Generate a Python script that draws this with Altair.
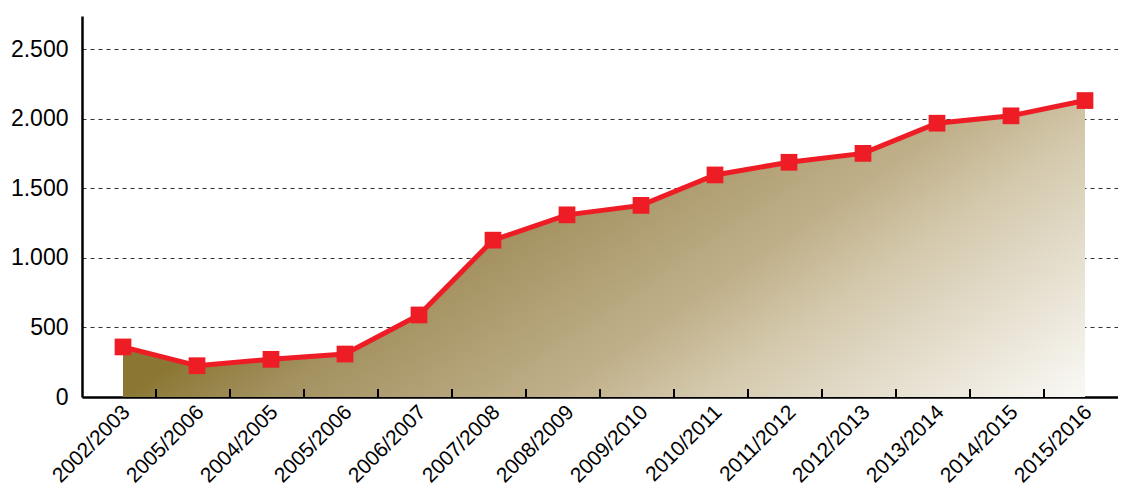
import json
import altair as alt
import pandas as pd

labels = ["2002/2003", "2005/2006", "2004/2005", "2005/2006", "2006/2007", "2007/2008",
          "2008/2009", "2009/2010", "2010/2011", "2011/2012", "2012/2013", "2013/2014",
          "2014/2015", "2015/2016"]
values = [360, 225, 271, 309, 590, 1128, 1310, 1378, 1597, 1688, 1752, 1969, 2022, 2132]
y_ticks = [0, 500, 1000, 1500, 2000, 2500]

df = pd.DataFrame({"idx": list(range(len(labels))), "value": values})
bounds = pd.DataFrame({"idx": list(range(len(labels) - 1))})

FONT = "Liberation Sans"
label_expr = json.dumps(labels) + "[datum.value]"

x_scale = alt.Scale(type="band", paddingInner=0, paddingOuter=0)
x_axis = alt.Axis(title=None, labelExpr=label_expr, labelAngle=-45,
                  labelFont=FONT, labelFontSize=21, labelColor="black",
                  labelPadding=4, ticks=False, domainColor="black",
                  domainWidth=2.5, grid=False, labelOverlap=False, labelBound=False)
x_enc = alt.X("idx:O", scale=x_scale, bandPosition=0.5, axis=x_axis)
y_enc = alt.Y("value:Q", scale=alt.Scale(domain=[0, 2740], nice=False),
              axis=alt.Axis(title=None, values=y_ticks, ticks=False,
                            labelExpr="replace(format(datum.value, ','), ',', '.')",
                            labelFont=FONT, labelFontSize=23, labelColor="black",
                            labelPadding=14, domainColor="black", domainWidth=2.5,
                            grid=True, gridColor="#333333", gridDash=[4, 4],
                            gridWidth=1))

grad = alt.Gradient(
    gradient="linear",
    stops=[alt.GradientStop(offset=0, color="#8B7733"),
           alt.GradientStop(offset=0.15, color="#A39160"),
           alt.GradientStop(offset=0.45, color="#C0B08A"),
           alt.GradientStop(offset=0.6, color="#D4C9AD"),
           alt.GradientStop(offset=1, color="#FAF9F6")],
    x1=0, y1=1, x2=0.832, y2=1.374)

area = alt.Chart(df).mark_area(color=grad, opacity=1, xOffset=4).encode(x=x_enc, y=y_enc)
line = alt.Chart(df).mark_line(color="#EE1C25", strokeWidth=5, xOffset=4).encode(x=x_enc, y=y_enc)
pts = alt.Chart(df).mark_square(color="#EE1C25", size=280, opacity=1, xOffset=4).encode(x=x_enc, y=y_enc)
ticks = alt.Chart(bounds).mark_rule(color="black", strokeWidth=2).encode(
    x=alt.X("idx:O", scale=x_scale, bandPosition=1),
    y=alt.value(381), y2=alt.value(373))

chart = alt.layer(area, line, pts, ticks).properties(
    width=1036, height=381,
    background="white",
    autosize=alt.AutoSizeParams(type="none"),
    padding={"left": 74, "top": 8, "right": 0, "bottom": 90},
).configure_view(stroke="transparent", strokeWidth=0)

chart.save("out.html", embed_options={"renderer": "svg", "actions": False})
